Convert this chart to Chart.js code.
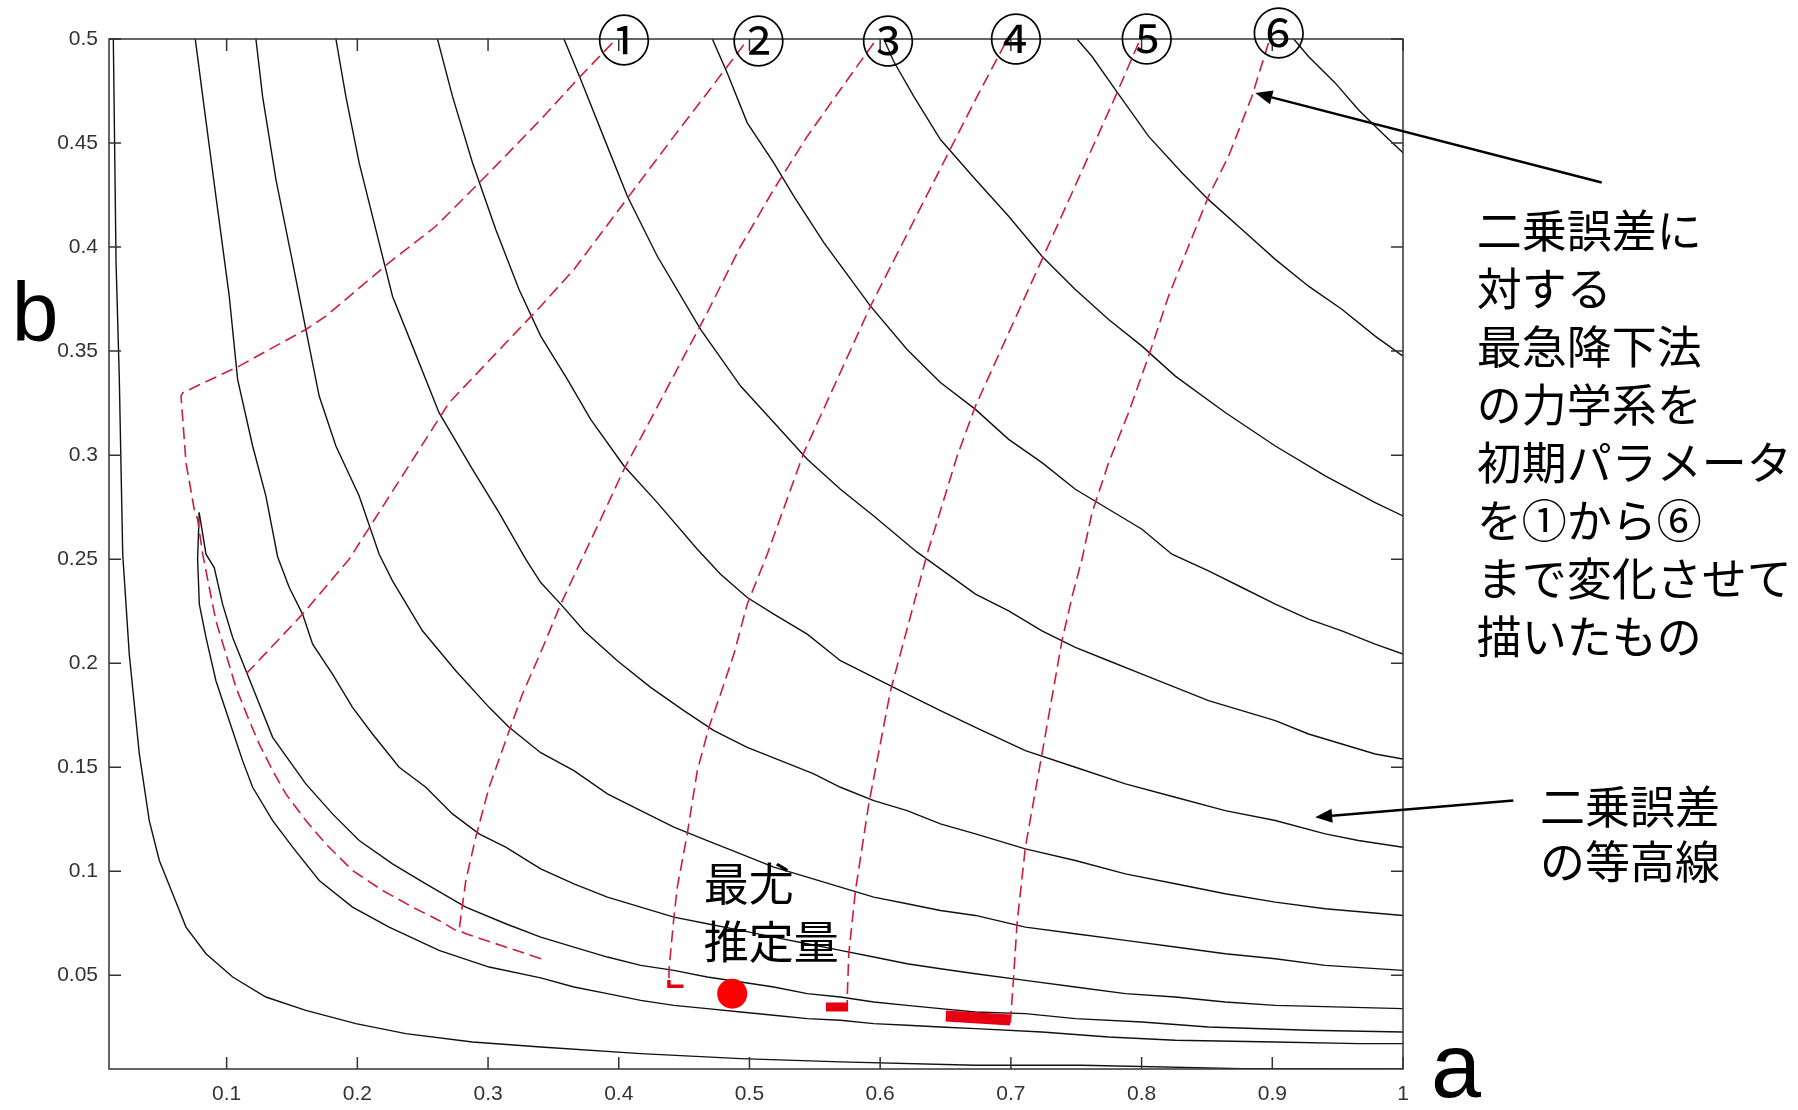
<!doctype html>
<html lang="ja">
<head>
<meta charset="utf-8">
<title>二乗誤差の等高線と最急降下法</title>
<script src="https://cdn.jsdelivr.net/npm/chart.js"></script>
<style>
  html, body { margin: 0; padding: 0; background: #fff; }
</style>
</head>
<body>
<canvas id="myChart" width="1798" height="1110"></canvas>

<script>
// axis ticks
const xTickValues = [0.1, 0.2, 0.3, 0.4, 0.5, 0.6, 0.7, 0.8, 0.9, 1];
const xTickLabels = ['0.1', '0.2', '0.3', '0.4', '0.5', '0.6', '0.7', '0.8', '0.9', '1'];
const yTickValues = [0.05, 0.1, 0.15, 0.2, 0.25, 0.3, 0.35, 0.4, 0.45, 0.5];
const yTickLabels = ['0.05', '0.1', '0.15', '0.2', '0.25', '0.3', '0.35', '0.4', '0.45', '0.5'];

// contour lines of the squared error, [a, b] pairs
const contourA = [[0.0133,0.5],[0.0154,0.3926],[0.0179,0.3364],[0.0205,0.2524],[0.0255,0.2044],[0.0332,0.1564],[0.0408,0.1244],[0.0485,0.1052],[0.0587,0.0892],[0.0689,0.0732],[0.0842,0.0604],[0.1046,0.0492],[0.13,0.0396],[0.1606,0.0332],[0.1989,0.0268],[0.2371,0.022],[0.2881,0.018],[0.3403,0.0156],[0.4168,0.0124],[0.4933,0.01],[0.5696,0.0084],[0.6729,0.0068],[0.7544,0.0068],[0.877,0.0052],[1.0,0.005]];
const valleyLower = [[0.079,0.2724],[0.0778,0.25],[0.0791,0.2284],[0.0842,0.2124],[0.0918,0.1916],[0.102,0.1724],[0.1122,0.1532],[0.1199,0.1404],[0.1352,0.1244],[0.1505,0.1116],[0.1708,0.0956],[0.1963,0.0828],[0.2243,0.0732],[0.2625,0.062],[0.3008,0.054],[0.3403,0.0488],[0.3657,0.0444],[0.3913,0.0412],[0.4168,0.038],[0.4422,0.0356],[0.4677,0.034],[0.4933,0.0324],[0.5186,0.0308],[0.5442,0.0292],[0.5696,0.0284],[0.5951,0.0268],[0.6206,0.026],[0.6461,0.0252],[0.6729,0.0244],[0.7238,0.0228],[0.7748,0.0204],[0.8258,0.0188],[0.9023,0.018],[0.9659,0.0172],[1.0,0.0172]];
const valleyUpper = [[0.079,0.2724],[0.0842,0.2524],[0.0905,0.246],[0.0969,0.2284],[0.1046,0.2124],[0.1148,0.1964],[0.125,0.1804],[0.1352,0.1644],[0.1479,0.1532],[0.1606,0.142],[0.181,0.1276],[0.2014,0.1148],[0.2269,0.1036],[0.2524,0.094],[0.283,0.0828],[0.3135,0.0748],[0.3403,0.0684],[0.3657,0.0636],[0.3913,0.0588],[0.4168,0.0548],[0.4422,0.0524],[0.4677,0.0492],[0.4933,0.0468],[0.5186,0.0444],[0.5442,0.0412],[0.5696,0.0396],[0.5951,0.0372],[0.6206,0.0356],[0.6461,0.034],[0.6729,0.0324],[0.7111,0.0316],[0.7493,0.0292],[0.8003,0.0276],[0.8512,0.0252],[0.9277,0.0236],[1.0,0.0228]];
const contourB = [[0.076,0.5],[0.0817,0.4724],[0.0918,0.4244],[0.102,0.3764],[0.1084,0.3364],[0.1199,0.3044],[0.13,0.2804],[0.139,0.2512],[0.1479,0.2364],[0.1581,0.2236],[0.1658,0.2092],[0.181,0.1948],[0.1963,0.1788],[0.2116,0.166],[0.232,0.15],[0.2524,0.1404],[0.2728,0.1276],[0.2931,0.118],[0.3135,0.1116],[0.3403,0.1012],[0.3657,0.094],[0.3913,0.0876],[0.4168,0.0828],[0.4422,0.078],[0.4677,0.0748],[0.4933,0.0716],[0.5186,0.0684],[0.5442,0.0652],[0.5696,0.062],[0.5951,0.0588],[0.6206,0.0556],[0.6461,0.0532],[0.6729,0.0508],[0.7111,0.0476],[0.7493,0.0444],[0.7876,0.0412],[0.8258,0.0396],[0.864,0.0372],[0.9023,0.0356],[1.0,0.034]];
const contourC = [[0.1224,0.5],[0.1275,0.4724],[0.1377,0.4325],[0.1505,0.3925],[0.1606,0.3604],[0.1708,0.3284],[0.1836,0.3044],[0.2014,0.2804],[0.2167,0.2524],[0.2269,0.2396],[0.2498,0.2156],[0.2753,0.1964],[0.3008,0.1788],[0.3161,0.1692],[0.3403,0.157],[0.3657,0.1484],[0.3913,0.1372],[0.4168,0.1292],[0.4422,0.1212],[0.4677,0.1148],[0.4933,0.1084],[0.5186,0.102],[0.5442,0.0972],[0.5696,0.0924],[0.5951,0.0876],[0.6206,0.0844],[0.6461,0.0812],[0.6729,0.0788],[0.7111,0.0732],[0.7493,0.07],[0.7876,0.0668],[0.8258,0.0636],[0.864,0.0604],[0.9023,0.058],[0.9405,0.0548],[1.0,0.0524]];
const contourD = [[0.1836,0.5],[0.1912,0.4724],[0.2014,0.4405],[0.2141,0.4085],[0.2269,0.3764],[0.2422,0.3524],[0.2625,0.3204],[0.2881,0.2932],[0.3084,0.2724],[0.3288,0.25],[0.3403,0.2388],[0.3556,0.2284],[0.3734,0.2156],[0.3989,0.2012],[0.4244,0.1884],[0.4498,0.1772],[0.4728,0.1676],[0.4983,0.1596],[0.5238,0.1532],[0.5492,0.1468],[0.5696,0.1404],[0.5951,0.134],[0.6206,0.1292],[0.6461,0.1228],[0.6729,0.118],[0.7111,0.1108],[0.7493,0.1052],[0.7876,0.0988],[0.8258,0.094],[0.864,0.0892],[0.9023,0.0852],[0.9405,0.082],[1.0,0.0788]];
const contourE = [[0.2613,0.5],[0.2728,0.4724],[0.2881,0.4405],[0.3059,0.4085],[0.3237,0.3796],[0.3403,0.3572],[0.3607,0.3364],[0.3785,0.3172],[0.404,0.2948],[0.4295,0.2772],[0.4601,0.2548],[0.4779,0.2428],[0.4983,0.2316],[0.5186,0.2236],[0.5442,0.214],[0.5696,0.2012],[0.5951,0.1932],[0.6206,0.1852],[0.6461,0.1772],[0.6729,0.1692],[0.7111,0.158],[0.7493,0.15],[0.7876,0.142],[0.8258,0.1356],[0.864,0.1292],[0.9023,0.1244],[0.9405,0.118],[0.9659,0.1148],[1.0,0.1116]];
const contourF = [[0.3581,0.5],[0.3709,0.4805],[0.3913,0.4484],[0.4066,0.4244],[0.4295,0.3956],[0.4626,0.3604],[0.4932,0.3332],[0.5187,0.3157],[0.5442,0.298],[0.5696,0.2836],[0.5951,0.2708],[0.628,0.2535],[0.6589,0.2396],[0.6729,0.2332],[0.6983,0.2252],[0.7238,0.2156],[0.7493,0.2076],[0.7748,0.2012],[0.8003,0.1948],[0.8258,0.1884],[0.8512,0.182],[0.8768,0.1772],[0.9023,0.1724],[0.9277,0.166],[0.9532,0.1612],[0.9787,0.1564],[1.0,0.154]];
const contourG = [[0.4716,0.5],[0.483,0.4837],[0.4983,0.4597],[0.5186,0.4405],[0.534,0.4244],[0.5569,0.4021],[0.5926,0.3716],[0.6206,0.3508],[0.6461,0.3349],[0.6729,0.322],[0.6983,0.3076],[0.7238,0.2964],[0.7493,0.2836],[0.7748,0.274],[0.8003,0.2644],[0.8232,0.2524],[0.8512,0.2444],[0.8768,0.2364],[0.9023,0.2284],[0.9277,0.2212],[0.9532,0.2156],[0.9787,0.2092],[1.0,0.2044]];
const contourH = [[0.6028,0.5],[0.6104,0.4892],[0.6257,0.4724],[0.6461,0.4517],[0.6729,0.4325],[0.6983,0.4148],[0.7238,0.3956],[0.7493,0.3796],[0.7748,0.3652],[0.8003,0.3524],[0.8258,0.338],[0.864,0.3205],[0.9023,0.3044],[0.9405,0.29],[0.9787,0.2772],[1.0,0.2708]];
const contourI = [[0.7506,0.5],[0.7621,0.4916],[0.7799,0.4757],[0.8054,0.4532],[0.8309,0.4357],[0.8512,0.4228],[0.8768,0.4084],[0.9023,0.3941],[0.9277,0.3812],[0.9532,0.3701],[0.9787,0.3572],[1.0,0.3476]];
const contourJ = [[0.9164,0.5],[0.9277,0.4916],[0.9481,0.4789],[0.9659,0.466],[0.9838,0.4549],[1.0,0.4453]];

// steepest descent paths from the six starting points
const path1 = [[0.3951,0.4981],[0.3683,0.4805],[0.3403,0.4613],[0.3008,0.4357],[0.26,0.41],[0.2243,0.3925],[0.1759,0.3668],[0.1606,0.3604],[0.1096,0.3428],[0.0664,0.33],[0.0651,0.3284],[0.0689,0.2964],[0.0752,0.274],[0.0778,0.2692],[0.0817,0.2524],[0.0867,0.2364],[0.0918,0.2204],[0.0995,0.2044],[0.1071,0.1884],[0.1173,0.1724],[0.1249,0.1612],[0.1352,0.1484],[0.1453,0.1372],[0.1606,0.1244],[0.1759,0.1132],[0.1963,0.1004],[0.2193,0.0908],[0.2422,0.0828],[0.2625,0.0764],[0.2753,0.0716]];
const path2 = [[0.4957,0.4973],[0.4677,0.4741],[0.4422,0.4532],[0.404,0.4213],[0.3657,0.3892],[0.3403,0.3716],[0.2702,0.3252],[0.1937,0.25],[0.1581,0.2236],[0.1148,0.1948]];
const path3 = [[0.5951,0.4981],[0.5696,0.4757],[0.5442,0.4532],[0.5186,0.4277],[0.4932,0.4004],[0.4677,0.3685],[0.4473,0.3444],[0.4244,0.3172],[0.404,0.2932],[0.385,0.2676],[0.3717,0.25],[0.3556,0.2284],[0.3403,0.2052],[0.3263,0.1852],[0.3135,0.1628],[0.3008,0.1404],[0.2906,0.1164],[0.283,0.0956],[0.2778,0.0716],[0.283,0.07],[0.343,0.0575]];
const path4 = [[0.6958,0.4981],[0.6729,0.4709],[0.5926,0.3716],[0.5416,0.3012],[0.5136,0.2524],[0.4983,0.2284],[0.4881,0.2044],[0.4779,0.1852],[0.469,0.1692],[0.4601,0.1484],[0.4524,0.118],[0.4448,0.0924],[0.4422,0.078],[0.4384,0.0524],[0.4384,0.0476]];
const path5 = [[0.7977,0.4981],[0.78,0.4724],[0.7238,0.394],[0.6729,0.3236],[0.6589,0.2996],[0.6359,0.2524],[0.6079,0.1868],[0.5913,0.1324],[0.5811,0.0908],[0.576,0.0604],[0.5748,0.0396],[0.5748,0.036]];
const path6 = [[0.8971,0.4981],[0.8844,0.4724],[0.8665,0.4436],[0.8512,0.4244],[0.8359,0.4004],[0.8206,0.3764],[0.8054,0.3476],[0.7901,0.3205],[0.7748,0.2964],[0.7621,0.2724],[0.7544,0.25],[0.7473,0.2332],[0.7391,0.2108],[0.7238,0.1564],[0.7111,0.1116],[0.7047,0.0748],[0.7021,0.0492],[0.6996,0.027]];

// where the paths pile up at the end
const stop4 = [[0.4384,0.0478],[0.4384,0.0448],[0.4495,0.0448]];
const stop5 = [[0.5585,0.0348],[0.5755,0.0348]];
const stop6 = [[0.6502,0.0305],[0.6995,0.0286]];

// maximum likelihood estimate
const mleEstimate = [[0.4868, 0.0412]];

const startLabels = ['①', '②', '③', '④', '⑤', '⑥'];
const noteDescent = ['二乗誤差に', '対する', '最急降下法', 'の力学系を', '初期パラメータ', 'を①から⑥', 'まで変化させて', '描いたもの'];
const noteContour = ['二乗誤差', 'の等高線'];
const noteMle = ['最尤', '推定量'];

const toPts = arr => arr.map(p => ({x: p[0], y: p[1]}));
const jpFont = "'Noto Sans CJK JP', 'Noto Sans CJK SC', sans-serif";

const contourSets = [contourA, valleyLower, valleyUpper, contourB, contourC, contourD, contourE, contourF, contourG, contourH, contourI, contourJ]
  .map(c => ({data: toPts(c), borderColor: '#111', borderWidth: 1.4, order: 4}));
const pathSets = [path1, path2, path3, path4, path5, path6]
  .map(p => ({data: toPts(p), borderColor: 'rgb(205,30,55)', borderWidth: 1.6, borderDash: [12, 6], order: 3}));
const stopSets = [[stop4, 3.5], [stop5, 9], [stop6, 11]]
  .map(s => ({data: toPts(s[0]), borderColor: '#e60012', borderWidth: s[1], borderCapStyle: 'butt', order: 2}));

// text and arrow placement (in axis units)
const notes = [
  {lines: noteDescent, x: 1.0564, y: 0.4076, size: 45, step: 58, align: 'left'},
  {lines: noteContour, x: 1.1048, y: 0.131, size: 45, step: 55, align: 'left'},
  {lines: noteMle, x: 0.465, y: 0.094, size: 45, step: 58, align: 'left'}
];
const startPos = [[0.404, 0.4995], [0.507, 0.499], [0.606, 0.499], [0.704, 0.5], [0.804, 0.5], [0.905, 0.5025]];
const arrows = [
  {from: [1.152, 0.431], to: [0.887, 0.474]},
  {from: [1.0844, 0.134], to: [0.9328, 0.126]}
];

const frameAndNotes = {
  id: 'frameAndNotes',
  afterDatasetsDraw(chart) {
    const {ctx, chartArea: a, scales: {x, y}} = chart;
    ctx.save();
    ctx.strokeStyle = '#333';
    ctx.lineWidth = 1.5;
    ctx.strokeRect(a.left, a.top, a.right - a.left, a.bottom - a.top);
    ctx.beginPath();
    xTickValues.forEach(v => {
      const px = x.getPixelForValue(v);
      ctx.moveTo(px, a.bottom); ctx.lineTo(px, a.bottom - 12);
      ctx.moveTo(px, a.top); ctx.lineTo(px, a.top + 12);
    });
    yTickValues.forEach(v => {
      const py = y.getPixelForValue(v);
      ctx.moveTo(a.left, py); ctx.lineTo(a.left + 12, py);
      ctx.moveTo(a.right, py); ctx.lineTo(a.right - 12, py);
    });
    ctx.stroke();

    // arrows
    ctx.strokeStyle = '#000';
    ctx.fillStyle = '#000';
    ctx.lineWidth = 2.5;
    arrows.forEach(ar => {
      const x0 = x.getPixelForValue(ar.from[0]), y0 = y.getPixelForValue(ar.from[1]);
      const x1 = x.getPixelForValue(ar.to[0]), y1 = y.getPixelForValue(ar.to[1]);
      const ang = Math.atan2(y1 - y0, x1 - x0);
      const hl = 17, hw = 7;
      const bx = x1 - hl * Math.cos(ang), by = y1 - hl * Math.sin(ang);
      ctx.beginPath(); ctx.moveTo(x0, y0); ctx.lineTo(bx, by); ctx.stroke();
      ctx.beginPath();
      ctx.moveTo(x1, y1);
      ctx.lineTo(bx + hw * Math.sin(ang), by - hw * Math.cos(ang));
      ctx.lineTo(bx - hw * Math.sin(ang), by + hw * Math.cos(ang));
      ctx.closePath(); ctx.fill();
    });

    // circled start numbers
    ctx.textAlign = 'center';
    ctx.textBaseline = 'middle';
    ctx.font = '54px ' + jpFont;
    startLabels.forEach((t, i) => {
      ctx.fillText(t, x.getPixelForValue(startPos[i][0]), y.getPixelForValue(startPos[i][1]));
    });

    // annotations
    notes.forEach(n => {
      ctx.font = n.size + 'px ' + jpFont;
      ctx.textAlign = n.align;
      const px = x.getPixelForValue(n.x), py = y.getPixelForValue(n.y);
      n.lines.forEach((line, i) => ctx.fillText(line, px, py + i * n.step));
    });

    // axis names
    ctx.textBaseline = 'alphabetic';
    ctx.textAlign = 'center';
    ctx.font = "84px 'Liberation Sans', Arial, sans-serif";
    ctx.fillText('b', x.getPixelForValue(-0.0466), y.getPixelForValue(0.3547));
    ctx.font = "90px 'Liberation Sans', Arial, sans-serif";
    ctx.fillText('a', x.getPixelForValue(1.0406), y.getPixelForValue(-0.0083));
    ctx.restore();
  }
};

new Chart(document.getElementById('myChart'), {
  type: 'scatter',
  data: {
    datasets: [
      {data: toPts(mleEstimate), showLine: false, pointRadius: 15, backgroundColor: '#ff0000', borderWidth: 0, order: 1},
      ...stopSets,
      ...pathSets,
      ...contourSets
    ]
  },
  options: {
    responsive: false,
    devicePixelRatio: 1,
    animation: false,
    events: [],
    showLine: true,
    elements: { point: { radius: 0, hoverRadius: 0 }, line: { tension: 0 } },
    layout: { padding: { top: 39, right: 395, left: 0, bottom: 0 } },
    plugins: { legend: { display: false }, tooltip: { enabled: false }, title: { display: false } },
    scales: {
      x: {
        type: 'linear', min: 0.01, max: 1,
        grid: { display: false, drawTicks: false },
        border: { display: false },
        afterBuildTicks: s => { s.ticks = xTickValues.map(v => ({value: v})); },
        afterFit: s => { s.height = 41; },
        ticks: {
          autoSkip: false, maxRotation: 0, padding: 13, color: '#333',
          font: { family: "'Liberation Sans', Arial, sans-serif", size: 21 },
          callback: (v, i) => xTickLabels[i]
        }
      },
      y: {
        type: 'linear', min: 0.005, max: 0.5,
        grid: { display: false, drawTicks: false },
        border: { display: false },
        afterBuildTicks: s => { s.ticks = yTickValues.map(v => ({value: v})); },
        afterFit: s => { s.width = 109; },
        ticks: {
          autoSkip: false, padding: 11, color: '#333',
          font: { family: "'Liberation Sans', Arial, sans-serif", size: 21 },
          callback: (v, i) => yTickLabels[i]
        }
      }
    }
  },
  plugins: [frameAndNotes]
});
</script>
</body>
</html>
